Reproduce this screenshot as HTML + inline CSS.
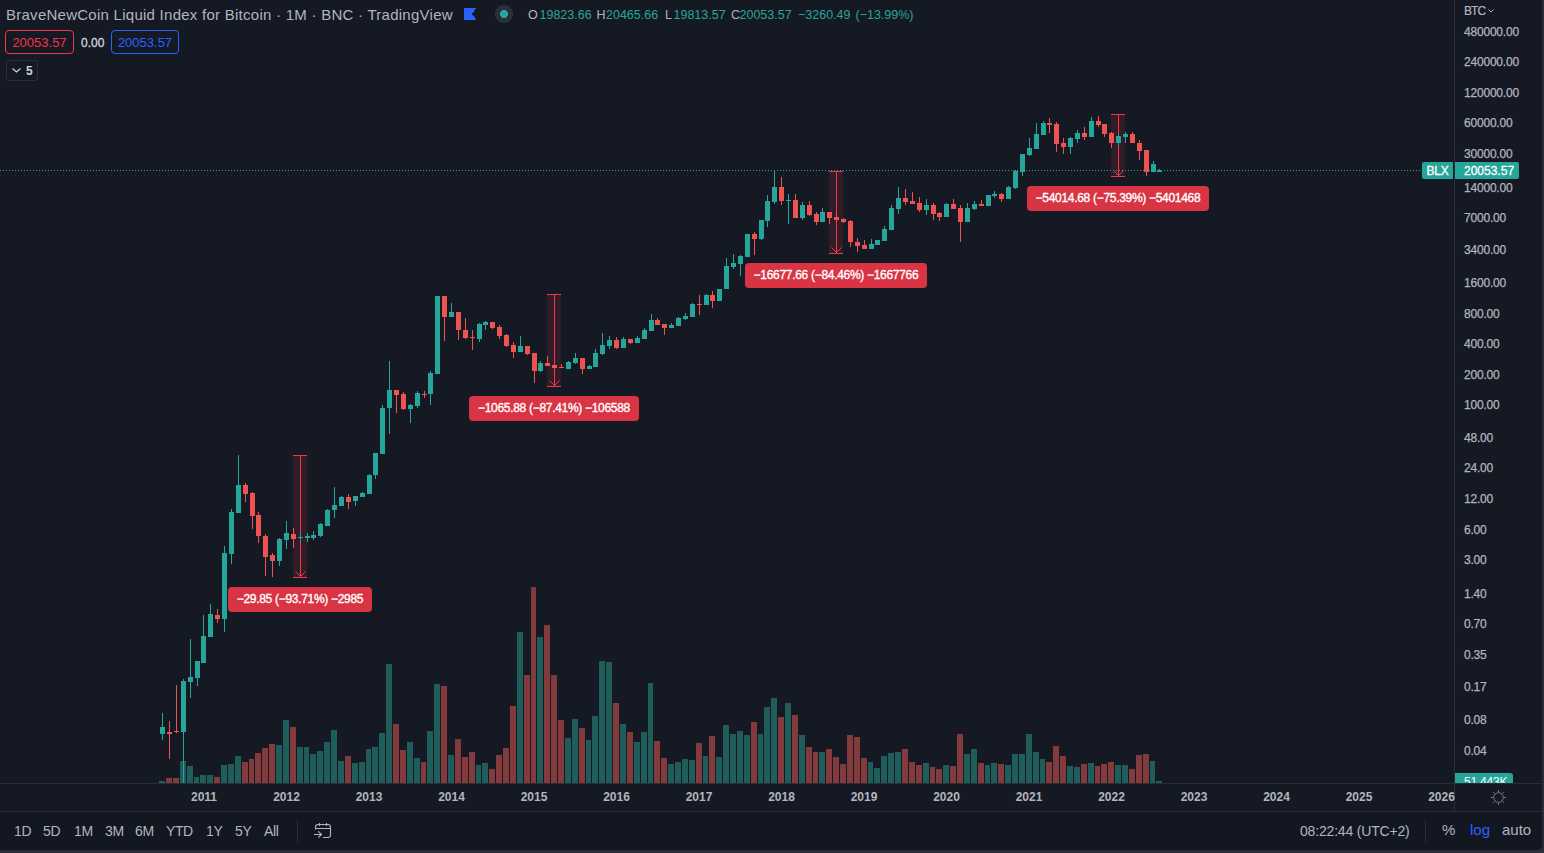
<!DOCTYPE html>
<html><head><meta charset="utf-8"><style>
html,body{margin:0;padding:0;width:1544px;height:853px;overflow:hidden;background:#2a2e39;}
body{font-family:"Liberation Sans",sans-serif;position:relative;}
#panel{position:absolute;left:0;top:0;width:1542px;height:850px;background:#151924;border-bottom-right-radius:5px;overflow:hidden;}
svg{position:absolute;left:0;top:0;}
.t{position:absolute;white-space:nowrap;}
.pl{position:absolute;left:1464px;font-size:12px;line-height:14px;color:#b2b5be;letter-spacing:-0.2px;white-space:nowrap;-webkit-text-stroke:0.25px #b2b5be;}
.tl{position:absolute;top:790px;width:40px;text-align:center;font-size:12px;font-weight:bold;line-height:14px;color:#b2b5be;}
.ml{position:absolute;background:#d93444;border-radius:4px;color:#fff;font-size:12px;-webkit-text-stroke:0.35px #fff;text-align:center;white-space:nowrap;letter-spacing:-0.3px;}
.lg{position:absolute;top:6px;font-size:12.5px;line-height:18px;color:#26a69a;white-space:nowrap;}
.bt{position:absolute;top:823px;font-size:14px;line-height:16px;letter-spacing:-0.4px;color:#b2b5be;white-space:nowrap;}
</style></head><body>
<div id="panel">
<svg width="1544" height="853" viewBox="0 0 1544 853" shape-rendering="crispEdges">
<rect x="0" y="812" width="1542" height="38" fill="#131722"/>
<rect x="159" y="781" width="6" height="2" fill="#1f5d5a"/>
<rect x="166" y="778" width="6" height="5" fill="#833a3c"/>
<rect x="173" y="778" width="6" height="5" fill="#833a3c"/>
<rect x="180" y="761" width="6" height="22" fill="#1f5d5a"/>
<rect x="187" y="766" width="6" height="17" fill="#1f5d5a"/>
<rect x="194" y="777" width="5" height="6" fill="#1f5d5a"/>
<rect x="200" y="775" width="6" height="8" fill="#1f5d5a"/>
<rect x="207" y="775" width="6" height="8" fill="#1f5d5a"/>
<rect x="214" y="777" width="6" height="6" fill="#833a3c"/>
<rect x="221" y="765" width="6" height="18" fill="#1f5d5a"/>
<rect x="228" y="764" width="6" height="19" fill="#1f5d5a"/>
<rect x="235" y="756" width="6" height="27" fill="#1f5d5a"/>
<rect x="242" y="762" width="6" height="21" fill="#833a3c"/>
<rect x="249" y="759" width="5" height="24" fill="#833a3c"/>
<rect x="255" y="753" width="6" height="30" fill="#833a3c"/>
<rect x="262" y="748" width="6" height="35" fill="#833a3c"/>
<rect x="269" y="744" width="6" height="39" fill="#833a3c"/>
<rect x="276" y="745" width="6" height="38" fill="#1f5d5a"/>
<rect x="283" y="720" width="6" height="63" fill="#1f5d5a"/>
<rect x="290" y="727" width="6" height="56" fill="#833a3c"/>
<rect x="297" y="747" width="6" height="36" fill="#1f5d5a"/>
<rect x="304" y="747" width="5" height="36" fill="#1f5d5a"/>
<rect x="310" y="754" width="6" height="29" fill="#1f5d5a"/>
<rect x="317" y="751" width="6" height="32" fill="#1f5d5a"/>
<rect x="324" y="742" width="6" height="41" fill="#1f5d5a"/>
<rect x="331" y="730" width="6" height="53" fill="#1f5d5a"/>
<rect x="338" y="761" width="6" height="22" fill="#1f5d5a"/>
<rect x="345" y="756" width="6" height="27" fill="#833a3c"/>
<rect x="352" y="763" width="6" height="20" fill="#1f5d5a"/>
<rect x="359" y="762" width="6" height="21" fill="#1f5d5a"/>
<rect x="366" y="749" width="5" height="34" fill="#1f5d5a"/>
<rect x="372" y="747" width="6" height="36" fill="#1f5d5a"/>
<rect x="379" y="733" width="6" height="50" fill="#1f5d5a"/>
<rect x="386" y="664" width="6" height="119" fill="#1f5d5a"/>
<rect x="393" y="724" width="6" height="59" fill="#833a3c"/>
<rect x="400" y="750" width="6" height="33" fill="#833a3c"/>
<rect x="407" y="742" width="6" height="41" fill="#1f5d5a"/>
<rect x="414" y="758" width="6" height="25" fill="#1f5d5a"/>
<rect x="421" y="762" width="5" height="21" fill="#833a3c"/>
<rect x="427" y="731" width="6" height="52" fill="#1f5d5a"/>
<rect x="434" y="684" width="6" height="99" fill="#1f5d5a"/>
<rect x="441" y="686" width="6" height="97" fill="#833a3c"/>
<rect x="448" y="755" width="6" height="28" fill="#1f5d5a"/>
<rect x="455" y="739" width="6" height="44" fill="#833a3c"/>
<rect x="462" y="757" width="6" height="26" fill="#833a3c"/>
<rect x="469" y="752" width="6" height="31" fill="#833a3c"/>
<rect x="476" y="765" width="5" height="18" fill="#1f5d5a"/>
<rect x="482" y="763" width="6" height="20" fill="#1f5d5a"/>
<rect x="489" y="769" width="6" height="14" fill="#833a3c"/>
<rect x="496" y="755" width="6" height="28" fill="#833a3c"/>
<rect x="503" y="748" width="6" height="35" fill="#833a3c"/>
<rect x="510" y="706" width="6" height="77" fill="#833a3c"/>
<rect x="517" y="632" width="6" height="151" fill="#1f5d5a"/>
<rect x="524" y="675" width="6" height="108" fill="#833a3c"/>
<rect x="531" y="587" width="5" height="196" fill="#833a3c"/>
<rect x="537" y="637" width="6" height="146" fill="#1f5d5a"/>
<rect x="544" y="625" width="6" height="158" fill="#833a3c"/>
<rect x="551" y="675" width="6" height="108" fill="#833a3c"/>
<rect x="558" y="720" width="6" height="63" fill="#833a3c"/>
<rect x="565" y="738" width="6" height="45" fill="#1f5d5a"/>
<rect x="572" y="719" width="6" height="64" fill="#1f5d5a"/>
<rect x="579" y="728" width="6" height="55" fill="#833a3c"/>
<rect x="586" y="740" width="5" height="43" fill="#1f5d5a"/>
<rect x="592" y="716" width="6" height="67" fill="#1f5d5a"/>
<rect x="599" y="661" width="6" height="122" fill="#1f5d5a"/>
<rect x="606" y="662" width="6" height="121" fill="#1f5d5a"/>
<rect x="613" y="703" width="6" height="80" fill="#833a3c"/>
<rect x="620" y="724" width="6" height="59" fill="#1f5d5a"/>
<rect x="627" y="732" width="6" height="51" fill="#833a3c"/>
<rect x="634" y="742" width="6" height="41" fill="#1f5d5a"/>
<rect x="641" y="732" width="6" height="51" fill="#1f5d5a"/>
<rect x="648" y="683" width="5" height="100" fill="#1f5d5a"/>
<rect x="654" y="741" width="6" height="42" fill="#833a3c"/>
<rect x="661" y="758" width="6" height="25" fill="#833a3c"/>
<rect x="668" y="764" width="6" height="19" fill="#1f5d5a"/>
<rect x="675" y="762" width="6" height="21" fill="#1f5d5a"/>
<rect x="682" y="759" width="6" height="24" fill="#1f5d5a"/>
<rect x="689" y="760" width="6" height="23" fill="#1f5d5a"/>
<rect x="696" y="743" width="6" height="40" fill="#833a3c"/>
<rect x="703" y="756" width="5" height="27" fill="#1f5d5a"/>
<rect x="709" y="736" width="6" height="47" fill="#833a3c"/>
<rect x="716" y="757" width="6" height="26" fill="#1f5d5a"/>
<rect x="723" y="725" width="6" height="58" fill="#1f5d5a"/>
<rect x="730" y="734" width="6" height="49" fill="#1f5d5a"/>
<rect x="737" y="731" width="6" height="52" fill="#1f5d5a"/>
<rect x="744" y="735" width="6" height="48" fill="#1f5d5a"/>
<rect x="751" y="722" width="6" height="61" fill="#833a3c"/>
<rect x="758" y="734" width="5" height="49" fill="#1f5d5a"/>
<rect x="764" y="707" width="6" height="76" fill="#1f5d5a"/>
<rect x="771" y="698" width="6" height="85" fill="#1f5d5a"/>
<rect x="778" y="717" width="6" height="66" fill="#833a3c"/>
<rect x="785" y="703" width="6" height="80" fill="#1f5d5a"/>
<rect x="792" y="715" width="6" height="68" fill="#833a3c"/>
<rect x="799" y="735" width="6" height="48" fill="#1f5d5a"/>
<rect x="806" y="747" width="6" height="36" fill="#833a3c"/>
<rect x="813" y="752" width="5" height="31" fill="#833a3c"/>
<rect x="819" y="752" width="6" height="31" fill="#1f5d5a"/>
<rect x="826" y="749" width="6" height="34" fill="#833a3c"/>
<rect x="833" y="757" width="6" height="26" fill="#833a3c"/>
<rect x="840" y="764" width="6" height="19" fill="#833a3c"/>
<rect x="847" y="735" width="6" height="48" fill="#833a3c"/>
<rect x="854" y="737" width="6" height="46" fill="#833a3c"/>
<rect x="861" y="758" width="6" height="25" fill="#833a3c"/>
<rect x="868" y="762" width="5" height="21" fill="#1f5d5a"/>
<rect x="874" y="768" width="6" height="15" fill="#1f5d5a"/>
<rect x="881" y="756" width="6" height="27" fill="#1f5d5a"/>
<rect x="888" y="753" width="6" height="30" fill="#1f5d5a"/>
<rect x="895" y="752" width="6" height="31" fill="#1f5d5a"/>
<rect x="902" y="749" width="6" height="34" fill="#833a3c"/>
<rect x="909" y="762" width="6" height="21" fill="#833a3c"/>
<rect x="916" y="765" width="6" height="18" fill="#833a3c"/>
<rect x="923" y="763" width="6" height="20" fill="#1f5d5a"/>
<rect x="930" y="767" width="5" height="16" fill="#833a3c"/>
<rect x="936" y="769" width="6" height="14" fill="#833a3c"/>
<rect x="943" y="765" width="6" height="18" fill="#1f5d5a"/>
<rect x="950" y="766" width="6" height="17" fill="#833a3c"/>
<rect x="957" y="734" width="6" height="49" fill="#833a3c"/>
<rect x="964" y="754" width="6" height="29" fill="#1f5d5a"/>
<rect x="971" y="749" width="6" height="34" fill="#1f5d5a"/>
<rect x="978" y="763" width="6" height="20" fill="#833a3c"/>
<rect x="985" y="765" width="5" height="18" fill="#1f5d5a"/>
<rect x="991" y="763" width="6" height="20" fill="#1f5d5a"/>
<rect x="998" y="764" width="6" height="19" fill="#833a3c"/>
<rect x="1005" y="765" width="6" height="18" fill="#1f5d5a"/>
<rect x="1012" y="754" width="6" height="29" fill="#1f5d5a"/>
<rect x="1019" y="754" width="6" height="29" fill="#1f5d5a"/>
<rect x="1026" y="734" width="6" height="49" fill="#1f5d5a"/>
<rect x="1033" y="752" width="6" height="31" fill="#1f5d5a"/>
<rect x="1040" y="759" width="5" height="24" fill="#1f5d5a"/>
<rect x="1046" y="762" width="6" height="21" fill="#833a3c"/>
<rect x="1053" y="746" width="6" height="37" fill="#833a3c"/>
<rect x="1060" y="756" width="6" height="27" fill="#833a3c"/>
<rect x="1067" y="766" width="6" height="17" fill="#1f5d5a"/>
<rect x="1074" y="767" width="6" height="16" fill="#1f5d5a"/>
<rect x="1081" y="764" width="6" height="19" fill="#833a3c"/>
<rect x="1088" y="763" width="6" height="20" fill="#1f5d5a"/>
<rect x="1095" y="766" width="5" height="17" fill="#833a3c"/>
<rect x="1101" y="764" width="6" height="19" fill="#833a3c"/>
<rect x="1108" y="762" width="6" height="21" fill="#833a3c"/>
<rect x="1115" y="765" width="6" height="18" fill="#1f5d5a"/>
<rect x="1122" y="765" width="6" height="18" fill="#1f5d5a"/>
<rect x="1129" y="769" width="6" height="14" fill="#833a3c"/>
<rect x="1136" y="755" width="6" height="28" fill="#833a3c"/>
<rect x="1143" y="754" width="6" height="29" fill="#833a3c"/>
<rect x="1150" y="761" width="5" height="22" fill="#1f5d5a"/>
<rect x="1156" y="781" width="6" height="2" fill="#1f5d5a"/>
<rect x="293" y="455" width="14" height="122" fill="rgba(242,54,69,0.13)"/>
<rect x="293" y="455" width="14" height="1" fill="#f23645"/>
<rect x="293" y="577" width="14" height="1" fill="#f23645"/>
<rect x="300" y="455" width="1" height="122" fill="#f23645"/>
<path d="M295.5 571.5 L300.5 576.5 L305.5 571.5" fill="none" stroke="#f23645" stroke-width="1" shape-rendering="auto"/>
<rect x="547" y="294" width="14" height="92" fill="rgba(242,54,69,0.13)"/>
<rect x="547" y="294" width="14" height="1" fill="#f23645"/>
<rect x="547" y="386" width="14" height="1" fill="#f23645"/>
<rect x="554" y="294" width="1" height="92" fill="#f23645"/>
<path d="M549.5 380.5 L554.5 385.5 L559.5 380.5" fill="none" stroke="#f23645" stroke-width="1" shape-rendering="auto"/>
<rect x="829" y="171" width="14" height="82" fill="rgba(242,54,69,0.13)"/>
<rect x="829" y="171" width="14" height="1" fill="#f23645"/>
<rect x="829" y="253" width="14" height="1" fill="#f23645"/>
<rect x="836" y="171" width="1" height="82" fill="#f23645"/>
<path d="M831.5 247.5 L836.5 252.5 L841.5 247.5" fill="none" stroke="#f23645" stroke-width="1" shape-rendering="auto"/>
<rect x="1111" y="114" width="14" height="62" fill="rgba(242,54,69,0.13)"/>
<rect x="1111" y="114" width="14" height="1" fill="#f23645"/>
<rect x="1111" y="176" width="14" height="1" fill="#f23645"/>
<rect x="1118" y="114" width="1" height="62" fill="#f23645"/>
<path d="M1113.5 170.5 L1118.5 175.5 L1123.5 170.5" fill="none" stroke="#f23645" stroke-width="1" shape-rendering="auto"/>
<rect x="162" y="713" width="1" height="27" fill="#26a69a"/>
<rect x="160" y="727" width="5" height="7" fill="#26a69a"/>
<rect x="169" y="721" width="1" height="38" fill="#ef5350"/>
<rect x="167" y="732" width="5" height="2" fill="#ef5350"/>
<rect x="176" y="685" width="1" height="48" fill="#ef5350"/>
<rect x="174" y="731" width="5" height="1" fill="#ef5350"/>
<rect x="183" y="679" width="1" height="104" fill="#26a69a"/>
<rect x="181" y="681" width="5" height="51" fill="#26a69a"/>
<rect x="190" y="639" width="1" height="59" fill="#26a69a"/>
<rect x="188" y="677" width="5" height="5" fill="#26a69a"/>
<rect x="197" y="661" width="1" height="25" fill="#26a69a"/>
<rect x="195" y="661" width="5" height="17" fill="#26a69a"/>
<rect x="203" y="615" width="1" height="48" fill="#26a69a"/>
<rect x="201" y="636" width="5" height="27" fill="#26a69a"/>
<rect x="210" y="604" width="1" height="33" fill="#26a69a"/>
<rect x="208" y="614" width="5" height="23" fill="#26a69a"/>
<rect x="217" y="609" width="1" height="14" fill="#ef5350"/>
<rect x="215" y="615" width="5" height="4" fill="#ef5350"/>
<rect x="224" y="546" width="1" height="86" fill="#26a69a"/>
<rect x="222" y="553" width="5" height="66" fill="#26a69a"/>
<rect x="231" y="509" width="1" height="55" fill="#26a69a"/>
<rect x="229" y="512" width="5" height="42" fill="#26a69a"/>
<rect x="238" y="455" width="1" height="58" fill="#26a69a"/>
<rect x="236" y="485" width="5" height="28" fill="#26a69a"/>
<rect x="245" y="483" width="1" height="19" fill="#ef5350"/>
<rect x="243" y="485" width="5" height="9" fill="#ef5350"/>
<rect x="252" y="492" width="1" height="37" fill="#ef5350"/>
<rect x="250" y="493" width="5" height="23" fill="#ef5350"/>
<rect x="258" y="512" width="1" height="31" fill="#ef5350"/>
<rect x="256" y="515" width="5" height="21" fill="#ef5350"/>
<rect x="265" y="534" width="1" height="42" fill="#ef5350"/>
<rect x="263" y="536" width="5" height="21" fill="#ef5350"/>
<rect x="272" y="553" width="1" height="24" fill="#ef5350"/>
<rect x="270" y="555" width="5" height="6" fill="#ef5350"/>
<rect x="279" y="538" width="1" height="28" fill="#26a69a"/>
<rect x="277" y="539" width="5" height="22" fill="#26a69a"/>
<rect x="286" y="521" width="1" height="28" fill="#26a69a"/>
<rect x="284" y="533" width="5" height="7" fill="#26a69a"/>
<rect x="293" y="528" width="1" height="20" fill="#ef5350"/>
<rect x="291" y="534" width="5" height="5" fill="#ef5350"/>
<rect x="300" y="533" width="1" height="10" fill="#26a69a"/>
<rect x="298" y="537" width="5" height="1" fill="#26a69a"/>
<rect x="307" y="533" width="1" height="9" fill="#26a69a"/>
<rect x="305" y="536" width="5" height="2" fill="#26a69a"/>
<rect x="313" y="531" width="1" height="9" fill="#26a69a"/>
<rect x="311" y="535" width="5" height="3" fill="#26a69a"/>
<rect x="320" y="523" width="1" height="14" fill="#26a69a"/>
<rect x="318" y="524" width="5" height="12" fill="#26a69a"/>
<rect x="327" y="509" width="1" height="17" fill="#26a69a"/>
<rect x="325" y="510" width="5" height="16" fill="#26a69a"/>
<rect x="334" y="487" width="1" height="31" fill="#26a69a"/>
<rect x="332" y="505" width="5" height="5" fill="#26a69a"/>
<rect x="341" y="496" width="1" height="10" fill="#26a69a"/>
<rect x="339" y="497" width="5" height="9" fill="#26a69a"/>
<rect x="348" y="494" width="1" height="15" fill="#ef5350"/>
<rect x="346" y="497" width="5" height="5" fill="#ef5350"/>
<rect x="355" y="496" width="1" height="10" fill="#26a69a"/>
<rect x="353" y="496" width="5" height="5" fill="#26a69a"/>
<rect x="362" y="492" width="1" height="5" fill="#26a69a"/>
<rect x="360" y="493" width="5" height="4" fill="#26a69a"/>
<rect x="369" y="474" width="1" height="20" fill="#26a69a"/>
<rect x="367" y="475" width="5" height="19" fill="#26a69a"/>
<rect x="375" y="453" width="1" height="26" fill="#26a69a"/>
<rect x="373" y="453" width="5" height="22" fill="#26a69a"/>
<rect x="382" y="405" width="1" height="49" fill="#26a69a"/>
<rect x="380" y="408" width="5" height="46" fill="#26a69a"/>
<rect x="389" y="361" width="1" height="73" fill="#26a69a"/>
<rect x="387" y="390" width="5" height="18" fill="#26a69a"/>
<rect x="396" y="390" width="1" height="23" fill="#ef5350"/>
<rect x="394" y="390" width="5" height="5" fill="#ef5350"/>
<rect x="403" y="392" width="1" height="18" fill="#ef5350"/>
<rect x="401" y="394" width="5" height="15" fill="#ef5350"/>
<rect x="410" y="404" width="1" height="19" fill="#26a69a"/>
<rect x="408" y="405" width="5" height="4" fill="#26a69a"/>
<rect x="417" y="391" width="1" height="17" fill="#26a69a"/>
<rect x="415" y="393" width="5" height="13" fill="#26a69a"/>
<rect x="424" y="391" width="1" height="7" fill="#ef5350"/>
<rect x="422" y="394" width="5" height="1" fill="#ef5350"/>
<rect x="430" y="371" width="1" height="34" fill="#26a69a"/>
<rect x="428" y="373" width="5" height="21" fill="#26a69a"/>
<rect x="437" y="296" width="1" height="78" fill="#26a69a"/>
<rect x="435" y="296" width="5" height="78" fill="#26a69a"/>
<rect x="444" y="296" width="1" height="45" fill="#ef5350"/>
<rect x="442" y="296" width="5" height="21" fill="#ef5350"/>
<rect x="451" y="303" width="1" height="14" fill="#26a69a"/>
<rect x="449" y="312" width="5" height="5" fill="#26a69a"/>
<rect x="458" y="312" width="1" height="28" fill="#ef5350"/>
<rect x="456" y="312" width="5" height="18" fill="#ef5350"/>
<rect x="465" y="318" width="1" height="21" fill="#ef5350"/>
<rect x="463" y="330" width="5" height="8" fill="#ef5350"/>
<rect x="472" y="330" width="1" height="20" fill="#ef5350"/>
<rect x="470" y="337" width="5" height="1" fill="#ef5350"/>
<rect x="479" y="323" width="1" height="19" fill="#26a69a"/>
<rect x="477" y="324" width="5" height="15" fill="#26a69a"/>
<rect x="485" y="321" width="1" height="9" fill="#26a69a"/>
<rect x="483" y="322" width="5" height="3" fill="#26a69a"/>
<rect x="492" y="322" width="1" height="7" fill="#ef5350"/>
<rect x="490" y="322" width="5" height="6" fill="#ef5350"/>
<rect x="499" y="325" width="1" height="14" fill="#ef5350"/>
<rect x="497" y="327" width="5" height="9" fill="#ef5350"/>
<rect x="506" y="334" width="1" height="13" fill="#ef5350"/>
<rect x="504" y="335" width="5" height="11" fill="#ef5350"/>
<rect x="513" y="342" width="1" height="16" fill="#ef5350"/>
<rect x="511" y="345" width="5" height="7" fill="#ef5350"/>
<rect x="520" y="336" width="1" height="16" fill="#26a69a"/>
<rect x="518" y="346" width="5" height="6" fill="#26a69a"/>
<rect x="527" y="346" width="1" height="9" fill="#ef5350"/>
<rect x="525" y="346" width="5" height="8" fill="#ef5350"/>
<rect x="534" y="353" width="1" height="30" fill="#ef5350"/>
<rect x="532" y="353" width="5" height="18" fill="#ef5350"/>
<rect x="540" y="361" width="1" height="11" fill="#26a69a"/>
<rect x="538" y="363" width="5" height="8" fill="#26a69a"/>
<rect x="547" y="356" width="1" height="10" fill="#ef5350"/>
<rect x="545" y="363" width="5" height="3" fill="#ef5350"/>
<rect x="554" y="365" width="1" height="4" fill="#ef5350"/>
<rect x="552" y="365" width="5" height="3" fill="#ef5350"/>
<rect x="561" y="364" width="1" height="4" fill="#ef5350"/>
<rect x="559" y="367" width="5" height="1" fill="#ef5350"/>
<rect x="568" y="361" width="1" height="8" fill="#26a69a"/>
<rect x="566" y="362" width="5" height="7" fill="#26a69a"/>
<rect x="575" y="353" width="1" height="11" fill="#26a69a"/>
<rect x="573" y="358" width="5" height="5" fill="#26a69a"/>
<rect x="582" y="358" width="1" height="16" fill="#ef5350"/>
<rect x="580" y="358" width="5" height="11" fill="#ef5350"/>
<rect x="589" y="365" width="1" height="4" fill="#26a69a"/>
<rect x="587" y="366" width="5" height="3" fill="#26a69a"/>
<rect x="595" y="349" width="1" height="18" fill="#26a69a"/>
<rect x="593" y="353" width="5" height="14" fill="#26a69a"/>
<rect x="602" y="333" width="1" height="22" fill="#26a69a"/>
<rect x="600" y="345" width="5" height="9" fill="#26a69a"/>
<rect x="609" y="336" width="1" height="13" fill="#26a69a"/>
<rect x="607" y="340" width="5" height="6" fill="#26a69a"/>
<rect x="616" y="337" width="1" height="12" fill="#ef5350"/>
<rect x="614" y="340" width="5" height="8" fill="#ef5350"/>
<rect x="623" y="337" width="1" height="11" fill="#26a69a"/>
<rect x="621" y="339" width="5" height="9" fill="#26a69a"/>
<rect x="630" y="339" width="1" height="5" fill="#ef5350"/>
<rect x="628" y="339" width="5" height="4" fill="#ef5350"/>
<rect x="637" y="336" width="1" height="7" fill="#26a69a"/>
<rect x="635" y="338" width="5" height="5" fill="#26a69a"/>
<rect x="644" y="328" width="1" height="11" fill="#26a69a"/>
<rect x="642" y="330" width="5" height="9" fill="#26a69a"/>
<rect x="651" y="314" width="1" height="17" fill="#26a69a"/>
<rect x="649" y="320" width="5" height="11" fill="#26a69a"/>
<rect x="657" y="318" width="1" height="7" fill="#ef5350"/>
<rect x="655" y="320" width="5" height="5" fill="#ef5350"/>
<rect x="664" y="324" width="1" height="11" fill="#ef5350"/>
<rect x="662" y="324" width="5" height="4" fill="#ef5350"/>
<rect x="671" y="323" width="1" height="5" fill="#26a69a"/>
<rect x="669" y="325" width="5" height="3" fill="#26a69a"/>
<rect x="678" y="317" width="1" height="9" fill="#26a69a"/>
<rect x="676" y="318" width="5" height="8" fill="#26a69a"/>
<rect x="685" y="313" width="1" height="7" fill="#26a69a"/>
<rect x="683" y="316" width="5" height="3" fill="#26a69a"/>
<rect x="692" y="303" width="1" height="14" fill="#26a69a"/>
<rect x="690" y="304" width="5" height="13" fill="#26a69a"/>
<rect x="699" y="295" width="1" height="20" fill="#ef5350"/>
<rect x="697" y="304" width="5" height="1" fill="#ef5350"/>
<rect x="706" y="294" width="1" height="11" fill="#26a69a"/>
<rect x="704" y="295" width="5" height="10" fill="#26a69a"/>
<rect x="712" y="291" width="1" height="17" fill="#ef5350"/>
<rect x="710" y="295" width="5" height="6" fill="#ef5350"/>
<rect x="719" y="289" width="1" height="12" fill="#26a69a"/>
<rect x="717" y="289" width="5" height="12" fill="#26a69a"/>
<rect x="726" y="258" width="1" height="31" fill="#26a69a"/>
<rect x="724" y="266" width="5" height="23" fill="#26a69a"/>
<rect x="733" y="254" width="1" height="15" fill="#26a69a"/>
<rect x="731" y="263" width="5" height="4" fill="#26a69a"/>
<rect x="740" y="255" width="1" height="21" fill="#26a69a"/>
<rect x="738" y="256" width="5" height="8" fill="#26a69a"/>
<rect x="747" y="234" width="1" height="23" fill="#26a69a"/>
<rect x="745" y="234" width="5" height="23" fill="#26a69a"/>
<rect x="754" y="232" width="1" height="23" fill="#ef5350"/>
<rect x="752" y="234" width="5" height="5" fill="#ef5350"/>
<rect x="761" y="220" width="1" height="20" fill="#26a69a"/>
<rect x="759" y="220" width="5" height="19" fill="#26a69a"/>
<rect x="767" y="195" width="1" height="32" fill="#26a69a"/>
<rect x="765" y="201" width="5" height="20" fill="#26a69a"/>
<rect x="774" y="170" width="1" height="34" fill="#26a69a"/>
<rect x="772" y="187" width="5" height="15" fill="#26a69a"/>
<rect x="781" y="177" width="1" height="28" fill="#ef5350"/>
<rect x="779" y="187" width="5" height="14" fill="#ef5350"/>
<rect x="788" y="194" width="1" height="30" fill="#26a69a"/>
<rect x="786" y="200" width="5" height="1" fill="#26a69a"/>
<rect x="795" y="194" width="1" height="24" fill="#ef5350"/>
<rect x="793" y="200" width="5" height="18" fill="#ef5350"/>
<rect x="802" y="202" width="1" height="18" fill="#26a69a"/>
<rect x="800" y="205" width="5" height="13" fill="#26a69a"/>
<rect x="809" y="201" width="1" height="15" fill="#ef5350"/>
<rect x="807" y="205" width="5" height="10" fill="#ef5350"/>
<rect x="816" y="212" width="1" height="13" fill="#ef5350"/>
<rect x="814" y="214" width="5" height="8" fill="#ef5350"/>
<rect x="822" y="208" width="1" height="14" fill="#26a69a"/>
<rect x="820" y="212" width="5" height="10" fill="#26a69a"/>
<rect x="829" y="212" width="1" height="12" fill="#ef5350"/>
<rect x="827" y="212" width="5" height="6" fill="#ef5350"/>
<rect x="836" y="212" width="1" height="10" fill="#ef5350"/>
<rect x="834" y="217" width="5" height="3" fill="#ef5350"/>
<rect x="843" y="218" width="1" height="5" fill="#ef5350"/>
<rect x="841" y="219" width="5" height="3" fill="#ef5350"/>
<rect x="850" y="220" width="1" height="27" fill="#ef5350"/>
<rect x="848" y="221" width="5" height="21" fill="#ef5350"/>
<rect x="857" y="238" width="1" height="14" fill="#ef5350"/>
<rect x="855" y="242" width="5" height="4" fill="#ef5350"/>
<rect x="864" y="240" width="1" height="9" fill="#ef5350"/>
<rect x="862" y="245" width="5" height="4" fill="#ef5350"/>
<rect x="871" y="239" width="1" height="10" fill="#26a69a"/>
<rect x="869" y="244" width="5" height="5" fill="#26a69a"/>
<rect x="877" y="240" width="1" height="5" fill="#26a69a"/>
<rect x="875" y="240" width="5" height="5" fill="#26a69a"/>
<rect x="884" y="226" width="1" height="15" fill="#26a69a"/>
<rect x="882" y="229" width="5" height="12" fill="#26a69a"/>
<rect x="891" y="205" width="1" height="25" fill="#26a69a"/>
<rect x="889" y="208" width="5" height="22" fill="#26a69a"/>
<rect x="898" y="187" width="1" height="27" fill="#26a69a"/>
<rect x="896" y="198" width="5" height="11" fill="#26a69a"/>
<rect x="905" y="189" width="1" height="16" fill="#ef5350"/>
<rect x="903" y="198" width="5" height="4" fill="#ef5350"/>
<rect x="912" y="192" width="1" height="12" fill="#ef5350"/>
<rect x="910" y="201" width="5" height="3" fill="#ef5350"/>
<rect x="919" y="197" width="1" height="15" fill="#ef5350"/>
<rect x="917" y="203" width="5" height="7" fill="#ef5350"/>
<rect x="926" y="199" width="1" height="16" fill="#26a69a"/>
<rect x="924" y="205" width="5" height="5" fill="#26a69a"/>
<rect x="933" y="203" width="1" height="17" fill="#ef5350"/>
<rect x="931" y="205" width="5" height="9" fill="#ef5350"/>
<rect x="939" y="212" width="1" height="9" fill="#ef5350"/>
<rect x="937" y="213" width="5" height="4" fill="#ef5350"/>
<rect x="946" y="203" width="1" height="14" fill="#26a69a"/>
<rect x="944" y="204" width="5" height="13" fill="#26a69a"/>
<rect x="953" y="199" width="1" height="10" fill="#ef5350"/>
<rect x="951" y="204" width="5" height="5" fill="#ef5350"/>
<rect x="960" y="205" width="1" height="37" fill="#ef5350"/>
<rect x="958" y="208" width="5" height="14" fill="#ef5350"/>
<rect x="967" y="203" width="1" height="19" fill="#26a69a"/>
<rect x="965" y="208" width="5" height="14" fill="#26a69a"/>
<rect x="974" y="201" width="1" height="9" fill="#26a69a"/>
<rect x="972" y="204" width="5" height="5" fill="#26a69a"/>
<rect x="981" y="200" width="1" height="6" fill="#ef5350"/>
<rect x="979" y="204" width="5" height="2" fill="#ef5350"/>
<rect x="988" y="195" width="1" height="11" fill="#26a69a"/>
<rect x="986" y="195" width="5" height="11" fill="#26a69a"/>
<rect x="994" y="191" width="1" height="7" fill="#26a69a"/>
<rect x="992" y="194" width="5" height="2" fill="#26a69a"/>
<rect x="1001" y="193" width="1" height="9" fill="#ef5350"/>
<rect x="999" y="194" width="5" height="5" fill="#ef5350"/>
<rect x="1008" y="186" width="1" height="13" fill="#26a69a"/>
<rect x="1006" y="187" width="5" height="12" fill="#26a69a"/>
<rect x="1015" y="170" width="1" height="19" fill="#26a69a"/>
<rect x="1013" y="171" width="5" height="17" fill="#26a69a"/>
<rect x="1022" y="154" width="1" height="22" fill="#26a69a"/>
<rect x="1020" y="154" width="5" height="18" fill="#26a69a"/>
<rect x="1029" y="138" width="1" height="18" fill="#26a69a"/>
<rect x="1027" y="148" width="5" height="7" fill="#26a69a"/>
<rect x="1036" y="123" width="1" height="26" fill="#26a69a"/>
<rect x="1034" y="134" width="5" height="15" fill="#26a69a"/>
<rect x="1043" y="121" width="1" height="14" fill="#26a69a"/>
<rect x="1041" y="123" width="5" height="12" fill="#26a69a"/>
<rect x="1049" y="118" width="1" height="15" fill="#ef5350"/>
<rect x="1047" y="123" width="5" height="2" fill="#ef5350"/>
<rect x="1056" y="122" width="1" height="30" fill="#ef5350"/>
<rect x="1054" y="124" width="5" height="20" fill="#ef5350"/>
<rect x="1063" y="138" width="1" height="16" fill="#ef5350"/>
<rect x="1061" y="143" width="5" height="4" fill="#ef5350"/>
<rect x="1070" y="137" width="1" height="17" fill="#26a69a"/>
<rect x="1068" y="138" width="5" height="9" fill="#26a69a"/>
<rect x="1077" y="130" width="1" height="13" fill="#26a69a"/>
<rect x="1075" y="133" width="5" height="6" fill="#26a69a"/>
<rect x="1084" y="127" width="1" height="13" fill="#ef5350"/>
<rect x="1082" y="133" width="5" height="4" fill="#ef5350"/>
<rect x="1091" y="117" width="1" height="20" fill="#26a69a"/>
<rect x="1089" y="121" width="5" height="16" fill="#26a69a"/>
<rect x="1098" y="116" width="1" height="11" fill="#ef5350"/>
<rect x="1096" y="121" width="5" height="4" fill="#ef5350"/>
<rect x="1104" y="124" width="1" height="13" fill="#ef5350"/>
<rect x="1102" y="124" width="5" height="10" fill="#ef5350"/>
<rect x="1111" y="132" width="1" height="16" fill="#ef5350"/>
<rect x="1109" y="133" width="5" height="10" fill="#ef5350"/>
<rect x="1118" y="134" width="1" height="13" fill="#26a69a"/>
<rect x="1116" y="136" width="5" height="7" fill="#26a69a"/>
<rect x="1125" y="132" width="1" height="11" fill="#26a69a"/>
<rect x="1123" y="134" width="5" height="3" fill="#26a69a"/>
<rect x="1132" y="132" width="1" height="11" fill="#ef5350"/>
<rect x="1130" y="134" width="5" height="9" fill="#ef5350"/>
<rect x="1139" y="140" width="1" height="20" fill="#ef5350"/>
<rect x="1137" y="143" width="5" height="8" fill="#ef5350"/>
<rect x="1146" y="150" width="1" height="26" fill="#ef5350"/>
<rect x="1144" y="150" width="5" height="22" fill="#ef5350"/>
<rect x="1153" y="161" width="1" height="11" fill="#26a69a"/>
<rect x="1151" y="164" width="5" height="8" fill="#26a69a"/>
<rect x="1159" y="169" width="1" height="3" fill="#26a69a"/>
<rect x="1157" y="170" width="5" height="2" fill="#26a69a"/>
<line x1="0" y1="170.5" x2="1421" y2="170.5" stroke="#26a69a" stroke-width="1" stroke-dasharray="1 2"/>
<rect x="1454" y="0" width="1" height="811" fill="#2a2e39"/>
<rect x="0" y="783" width="1542" height="1" fill="#2a2e39"/>
<rect x="0" y="811" width="1542" height="1" fill="#2a2e39"/>
<rect x="297" y="820" width="1" height="22" fill="#2a2e39"/>
<rect x="1425" y="820" width="1" height="22" fill="#2a2e39"/>
<g shape-rendering="auto"><circle cx="1498.5" cy="797.5" r="4.8" fill="none" stroke="#787b86" stroke-width="1"/><line x1="1504.00" y1="797.50" x2="1506.00" y2="797.50" stroke="#787b86" stroke-width="1"/><line x1="1502.39" y1="801.39" x2="1503.80" y2="802.80" stroke="#787b86" stroke-width="1"/><line x1="1498.50" y1="803.00" x2="1498.50" y2="805.00" stroke="#787b86" stroke-width="1"/><line x1="1494.61" y1="801.39" x2="1493.20" y2="802.80" stroke="#787b86" stroke-width="1"/><line x1="1493.00" y1="797.50" x2="1491.00" y2="797.50" stroke="#787b86" stroke-width="1"/><line x1="1494.61" y1="793.61" x2="1493.20" y2="792.20" stroke="#787b86" stroke-width="1"/><line x1="1498.50" y1="792.00" x2="1498.50" y2="790.00" stroke="#787b86" stroke-width="1"/><line x1="1502.39" y1="793.61" x2="1503.80" y2="792.20" stroke="#787b86" stroke-width="1"/></g>
<path d="M315.5 829.5 V827 Q315.5 824.5 318 824.5 H328 Q330.5 824.5 330.5 827 V835 Q330.5 837.5 328 837.5 H323 M315.5 828.5 H330.5 M319.5 823 V826 M326.5 823 V826 M314 834.5 H321.5 M318.3 831.3 L321.5 834.5 L318.3 837.7" fill="none" stroke="#b2b5be" stroke-width="1.1" shape-rendering="auto"/>
<path d="M464 8 H476 L472 13.8 L476 19.6 H464 Z" fill="#2962ff"/>
<circle cx="504" cy="14" r="9" fill="#2a2e39"/><circle cx="504" cy="14" r="4" fill="#26a69a"/>
</svg>
<div class="t" style="left:6px;top:6px;font-size:15px;line-height:18px;color:#b2b5be;letter-spacing:0.26px">BraveNewCoin Liquid Index for Bitcoin · 1M · BNC · TradingView</div>
<div class="lg" style="left:528px;color:#b2b5be">O</div>
<div class="lg" style="left:539.5px">19823.66</div>
<div class="lg" style="left:596.5px;color:#b2b5be">H</div>
<div class="lg" style="left:606px">20465.66</div>
<div class="lg" style="left:665px;color:#b2b5be">L</div>
<div class="lg" style="left:673.5px">19813.57</div>
<div class="lg" style="left:731px;color:#b2b5be">C</div>
<div class="lg" style="left:739.5px">20053.57</div>
<div class="lg" style="left:798px">−3260.49</div>
<div class="lg" style="left:855.5px">(−13.99%)</div>
<div class="t" style="left:5px;top:30px;width:67px;height:22px;border:1px solid #f23645;border-radius:4px;color:#f23645;font-size:13px;line-height:24px;text-align:center;">20053.57</div>
<div class="t" style="left:81px;top:35px;font-size:12px;line-height:16px;color:#d1d4dc;-webkit-text-stroke:0.3px #d1d4dc">0.00</div>
<div class="t" style="left:111px;top:30px;width:66px;height:22px;border:1px solid #2962ff;border-radius:4px;color:#2962ff;font-size:13px;line-height:24px;text-align:center;">20053.57</div>
<div class="t" style="left:6px;top:60px;width:30px;height:19px;border:1px solid #2a2e39;border-radius:3px;"></div>
<svg width="1544" height="853" style="pointer-events:none"><path d="M12.5 68.5 L16.5 72 L20.5 68.5" fill="none" stroke="#d1d4dc" stroke-width="1.2"/></svg>
<div class="t" style="left:26px;top:64px;font-size:12px;line-height:14px;color:#d1d4dc;font-weight:bold;">5</div>
<div class="t" style="left:1464px;top:4px;font-size:12px;line-height:14px;color:#b2b5be;letter-spacing:-0.9px;-webkit-text-stroke:0.2px #b2b5be">BTC</div>
<svg width="1544" height="853"><path d="M1488.5 9.5 L1491 12 L1493.5 9.5" fill="none" stroke="#b2b5be" stroke-width="1"/></svg>
<div class="pl" style="top:24.6px">480000.00</div>
<div class="pl" style="top:55.1px">240000.00</div>
<div class="pl" style="top:85.7px">120000.00</div>
<div class="pl" style="top:116.3px">60000.00</div>
<div class="pl" style="top:146.8px">30000.00</div>
<div class="pl" style="top:180.5px">14000.00</div>
<div class="pl" style="top:211.0px">7000.00</div>
<div class="pl" style="top:242.9px">3400.00</div>
<div class="pl" style="top:276.1px">1600.00</div>
<div class="pl" style="top:306.7px">800.00</div>
<div class="pl" style="top:337.3px">400.00</div>
<div class="pl" style="top:367.8px">200.00</div>
<div class="pl" style="top:398.4px">100.00</div>
<div class="pl" style="top:430.8px">48.00</div>
<div class="pl" style="top:461.3px">24.00</div>
<div class="pl" style="top:491.9px">12.00</div>
<div class="pl" style="top:522.5px">6.00</div>
<div class="pl" style="top:553.0px">3.00</div>
<div class="pl" style="top:586.7px">1.40</div>
<div class="pl" style="top:617.2px">0.70</div>
<div class="pl" style="top:647.8px">0.35</div>
<div class="pl" style="top:679.6px">0.17</div>
<div class="pl" style="top:712.9px">0.08</div>
<div class="pl" style="top:743.5px">0.04</div>
<div class="t" style="left:1422px;top:162px;width:31px;height:17px;background:#26a69a;border-radius:2px 0 0 2px;color:#fff;font-size:12px;line-height:19px;text-align:center;-webkit-text-stroke:0.3px #fff;letter-spacing:-0.3px">BLX</div>
<div class="t" style="left:1455px;top:162px;width:64px;height:17px;background:#26a69a;border-radius:0 2px 2px 0;color:#fff;font-size:12px;line-height:19px;padding-left:0;overflow:hidden"><span style="position:absolute;left:9px;letter-spacing:0px;-webkit-text-stroke:0.3px #fff">20053.57</span></div>
<div class="t" style="left:1455px;top:773px;width:58px;height:10px;background:#26a69a;border-radius:0 3px 0 0;overflow:hidden;"><span style="position:absolute;left:9px;top:2px;color:#fff;font-size:12px;line-height:14px;letter-spacing:-0.2px">51.443K</span></div>
<div class="tl" style="left:184.0px">2011</div>
<div class="tl" style="left:266.5px">2012</div>
<div class="tl" style="left:349.0px">2013</div>
<div class="tl" style="left:431.5px">2014</div>
<div class="tl" style="left:514.0px">2015</div>
<div class="tl" style="left:596.5px">2016</div>
<div class="tl" style="left:679.0px">2017</div>
<div class="tl" style="left:761.5px">2018</div>
<div class="tl" style="left:844.0px">2019</div>
<div class="tl" style="left:926.5px">2020</div>
<div class="tl" style="left:1009.0px">2021</div>
<div class="tl" style="left:1091.5px">2022</div>
<div class="tl" style="left:1174.0px">2023</div>
<div class="tl" style="left:1256.5px">2024</div>
<div class="tl" style="left:1339.0px">2025</div>
<div class="tl" style="left:1421.5px">2026</div>
<div class="ml" style="left:228px;top:587px;width:144px;height:25px;line-height:25px">−29.85 (−93.71%) −2985</div>
<div class="ml" style="left:469px;top:396px;width:170px;height:25px;line-height:25px">−1065.88 (−87.41%) −106588</div>
<div class="ml" style="left:745px;top:263px;width:182px;height:25px;line-height:25px">−16677.66 (−84.46%) −1667766</div>
<div class="ml" style="left:1027px;top:186px;width:182px;height:25px;line-height:25px">−54014.68 (−75.39%) −5401468</div>
<div class="bt" style="left:14px">1D</div>
<div class="bt" style="left:43px">5D</div>
<div class="bt" style="left:74px">1M</div>
<div class="bt" style="left:105px">3M</div>
<div class="bt" style="left:135px">6M</div>
<div class="bt" style="left:166px">YTD</div>
<div class="bt" style="left:206px">1Y</div>
<div class="bt" style="left:235px">5Y</div>
<div class="bt" style="left:264px">All</div>
<div class="bt" style="left:1300px;letter-spacing:-0.18px">08:22:44 (UTC+2)</div>
<div class="bt" style="left:1442px;top:822px;font-size:15px;letter-spacing:0">%</div>
<div class="bt" style="left:1470px;top:822px;font-size:15px;letter-spacing:0;color:#2962ff">log</div>
<div class="bt" style="left:1502px;top:822px;font-size:15px;letter-spacing:0">auto</div>
</div>
</body></html>
